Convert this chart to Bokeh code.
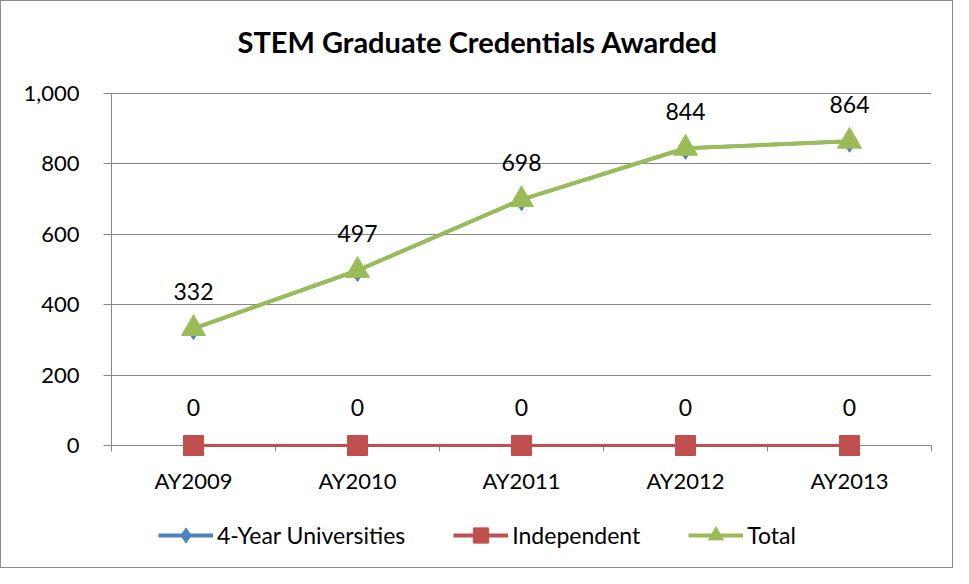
from bokeh.plotting import figure
from bokeh.layouts import column
from bokeh.models import (Range1d, FixedTicker, NumeralTickFormatter, Legend, LegendItem,
                          ColumnDataSource, Title)
from bokeh.core.properties import value
from bokeh.embed import file_html
from bokeh.resources import INLINE

categories = ["AY2009", "AY2010", "AY2011", "AY2012", "AY2013"]
four_year = [332, 497, 698, 844, 864]
independent = [0, 0, 0, 0, 0]
total = [332, 497, 698, 844, 864]
y_ticks = [0, 200, 400, 600, 800, 1000]
series_names = ["4-Year Universities", "Independent", "Total"]

FONT = "Lato"
BLUE = "#4F81BD"
RED = "#C0504D"
GREEN = "#9BBB59"
GRID = "#878787"

xs = list(range(len(categories)))
src = ColumnDataSource(dict(
    x=xs, four=four_year, ind=independent, tot=total,
    ind_lbl=[str(v) for v in independent], tot_lbl=[str(v) for v in total],
))

p = figure(width=951, height=497, output_backend="svg", toolbar_location=None,
           x_range=Range1d(-0.5, len(categories) - 0.5), y_range=Range1d(0, 1045),
           min_border_left=110, min_border_right=21, min_border_top=76, min_border_bottom=53)
p.outline_line_color = None
p.background_fill_color = "white"
p.border_fill_color = "white"

p.title = Title(text="STEM Graduate Credentials Awarded", align="left", offset=126,
                text_font=FONT, text_font_size="29px", text_font_style="bold",
                text_color="#000000", standoff=37)

# axes
xa = p.xaxis[0]
xa.ticker = FixedTicker(ticks=xs, minor_ticks=[i - 0.5 for i in range(len(categories) + 1)])
xa.major_label_overrides = {i: c for i, c in enumerate(categories)}
xa.axis_line_color = GRID
xa.major_tick_line_color = None
xa.major_tick_out = 6
xa.major_tick_in = 0
xa.minor_tick_line_color = GRID
xa.minor_tick_out = 6
xa.minor_tick_in = 0
xa.major_label_standoff = 15
xa.major_label_text_font = FONT
xa.major_label_text_font_size = "22px"
xa.major_label_text_color = "#000000"

ya = p.yaxis[0]
ya.ticker = FixedTicker(ticks=y_ticks)
ya.formatter = NumeralTickFormatter(format="0,0")
ya.bounds = (0, 1000)
ya.axis_line_color = GRID
ya.major_tick_line_color = GRID
ya.major_tick_out = 8
ya.major_tick_in = 0
ya.minor_tick_line_color = None
ya.major_label_standoff = 24
ya.major_label_text_font = FONT
ya.major_label_text_font_size = "22px"
ya.major_label_text_color = "#000000"

p.xgrid.grid_line_color = None
p.ygrid.ticker = FixedTicker(ticks=y_ticks)
p.ygrid.grid_line_color = GRID
p.ygrid.grid_line_width = 1

# series (overlay level so markers at the frame edge are not clipped)
p.line("x", "four", source=src, line_color=BLUE, line_width=3.5, level="overlay")
p.scatter("x", "four", source=src, marker="diamond", size=22, fill_color=BLUE,
          line_color=BLUE, level="overlay")
p.line("x", "ind", source=src, line_color=RED, line_width=3, level="overlay")
p.scatter("x", "ind", source=src, marker="square", size=20, fill_color=RED,
          line_color=RED, level="overlay")
p.line("x", "tot", source=src, line_color=GREEN, line_width=4, level="overlay")
p.scatter("x", "tot", source=src, marker="triangle", size=24, fill_color=GREEN,
          line_color=GREEN, level="overlay")

p.text("x", "tot", text="tot_lbl", source=src, y_offset=-37, text_align="center",
       text_baseline="middle", text_font=value(FONT), text_font_size="23px",
       text_color="#000000", level="overlay")
p.text("x", "ind", text="ind_lbl", source=src, y_offset=-38, text_align="center",
       text_baseline="middle", text_font=value(FONT), text_font_size="23px",
       text_color="#000000", level="overlay")

# legend strip (separate figure below the chart so the legend is not clipped);
# its proxy renderers use the same series but lie outside this strip's view
lg = figure(width=951, height=69, output_backend="svg", toolbar_location=None,
            x_range=Range1d(0, 1), y_range=Range1d(-3000, -2000),
            x_axis_type=None, y_axis_type=None,
            min_border_left=0, min_border_right=0, min_border_top=0, min_border_bottom=0)
lg.outline_line_color = None
lg.xgrid.grid_line_color = None
lg.ygrid.grid_line_color = None
lg.background_fill_color = "white"
lg.border_fill_color = "white"

items = []
for name, col, color, marker, msize, lw in zip(series_names, ["four", "ind", "tot"],
                                               [BLUE, RED, GREEN],
                                               ["diamond", "square", "triangle"],
                                               [22, 20, 24], [4, 4, 4]):
    lr = lg.line("x", col, source=src, line_color=color, line_width=lw)
    sr = lg.scatter("x", col, source=src, marker=marker, size=msize,
                    fill_color=color, line_color=color)
    items.append(LegendItem(label=name, renderers=[lr, sr]))

legend = Legend(items=items, orientation="horizontal", location=(47, 13),
                border_line_color=None, background_fill_alpha=0,
                glyph_width=55, glyph_height=38, label_standoff=4, spacing=48,
                padding=4, margin=0, label_text_font=FONT, label_text_font_size="23px",
                label_text_color="#000000")
lg.add_layout(legend)

page = column(p, lg, spacing=0, styles={"border": "1px solid #8a8a8a", "background": "white"})

open("out.html", "w").write(file_html(page, INLINE))
